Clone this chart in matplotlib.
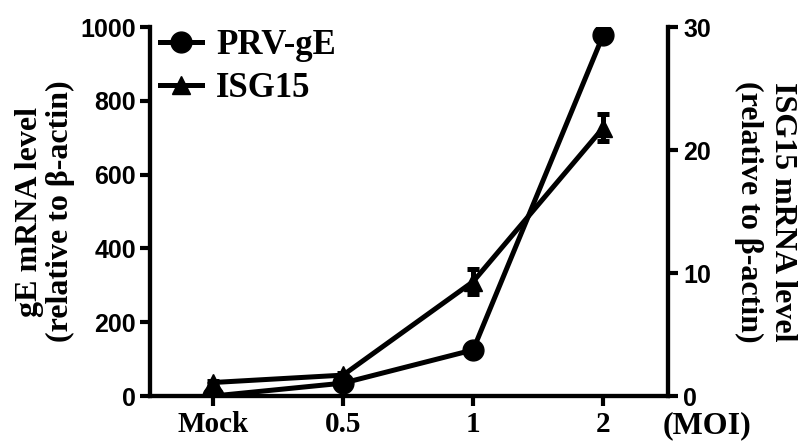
import numpy as np
import matplotlib
matplotlib.use("Agg")
import matplotlib.pyplot as plt
from matplotlib.lines import Line2D

categories = ["Mock", "0.5", "1", "2"]
gE_level = [0, 35, 125, 978]
gE_err = [0, 3, 5, 6]
isg15_level = [1.1, 1.7, 9.3, 21.8]
isg15_err = [0.1, 0.2, 1.0, 1.1]

serif = "Liberation Serif"
sans = "Liberation Sans"

fig = plt.figure(figsize=(8.06, 4.43), dpi=100)
ax = fig.add_axes([0.186, 0.106, 0.643, 0.833])
ax2 = ax.twinx()

x = np.arange(len(categories))
lw = 3.6

ax.errorbar(x, gE_level, yerr=gE_err, color="black", lw=lw, marker="o",
            markersize=15, capsize=4, capthick=lw, elinewidth=lw, zorder=3)
ax2.errorbar(x, isg15_level, yerr=isg15_err, color="black", lw=lw, marker="^",
             markersize=13, capsize=4, capthick=lw, elinewidth=lw, zorder=3)

ax.set_ylim(0, 1000)
ax2.set_ylim(0, 30)
ax.set_xticks(x)
ax.set_xticklabels(categories, fontfamily=serif, fontweight="bold", fontsize=21)
ax.set_yticks(range(0, 1001, 200))
ax2.set_yticks([0, 10, 20, 30])

for a in (ax, ax2):
    for s in a.spines.values():
        s.set_linewidth(3)
    a.spines["top"].set_visible(False)
    a.tick_params(width=3, length=7, direction="out")
ax.tick_params(axis="x", pad=4)
ax.tick_params(axis="y", labelsize=18, pad=3)
ax2.tick_params(axis="y", labelsize=18, pad=4)
for lab in ax.get_yticklabels() + ax2.get_yticklabels():
    lab.set_fontfamily(sans)
    lab.set_fontweight("bold")

ax.set_ylabel("gE mRNA level\n(relative to β-actin)", fontfamily=serif,
              fontweight="bold", fontsize=23, labelpad=4, linespacing=1.08)
ax2.set_ylabel("ISG15 mRNA level\n(relative to β-actin)", fontfamily=serif,
               fontweight="bold", fontsize=23, rotation=270, labelpad=62,
               linespacing=1.22)

fig.text(0.877, 0.04, "(MOI)", fontfamily=serif, fontweight="bold",
         fontsize=23, ha="center", va="center")

handles = [Line2D([], [], color="black", lw=lw, marker="o", markersize=15),
           Line2D([], [], color="black", lw=lw, marker="^", markersize=13)]
ax.legend(handles, ["PRV-gE", "ISG15"], loc="upper left",
          bbox_to_anchor=(-0.04, 1.08), frameon=False, handlelength=1.2,
          handletextpad=0.4, labelspacing=0.3,
          prop={"family": serif, "weight": "bold", "size": 25})

ax.set_xlim(-0.485, 3.5)
ax2.set_xlim(-0.485, 3.5)

fig.savefig("out.png", dpi=100)
